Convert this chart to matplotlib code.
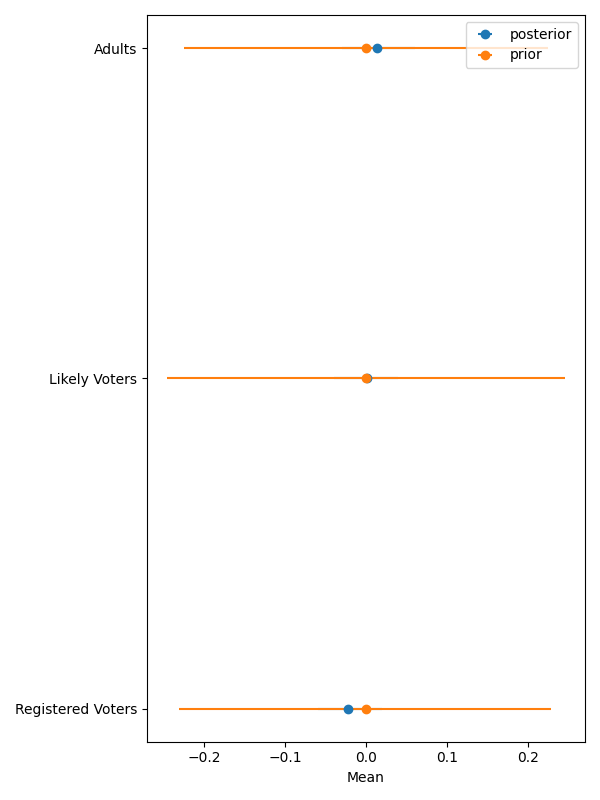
import matplotlib
matplotlib.use('Agg')
import matplotlib.pyplot as plt
import numpy as np

# categories (top to bottom)
groups = ['Adults', 'Likely Voters', 'Registered Voters']

# posterior means and interval bounds
post_mean = [0.014, 0.001, -0.022]
post_lo = [-0.03, -0.04, -0.06]
post_hi = [0.06, 0.04, 0.02]

# prior means and interval bounds
prior_mean = [0.0, 0.0, 0.0]
prior_lo = [-0.225, -0.246, -0.231]
prior_hi = [0.225, 0.246, 0.228]

y = np.arange(len(groups))

fig, ax = plt.subplots(figsize=(6, 8), dpi=100)

pm = np.array(post_mean)
ax.errorbar(pm, y, xerr=[pm - np.array(post_lo), np.array(post_hi) - pm],
            fmt='o', color='C0', label='posterior')
rm = np.array(prior_mean)
ax.errorbar(rm, y, xerr=[rm - np.array(prior_lo), np.array(prior_hi) - rm],
            fmt='o', color='C1', label='prior')

ax.set_yticks(y)
ax.set_yticklabels(groups)
ax.invert_yaxis()
ax.set_xlabel('Mean')
ax.legend(loc='upper right')

plt.tight_layout()
plt.savefig('out.png')
